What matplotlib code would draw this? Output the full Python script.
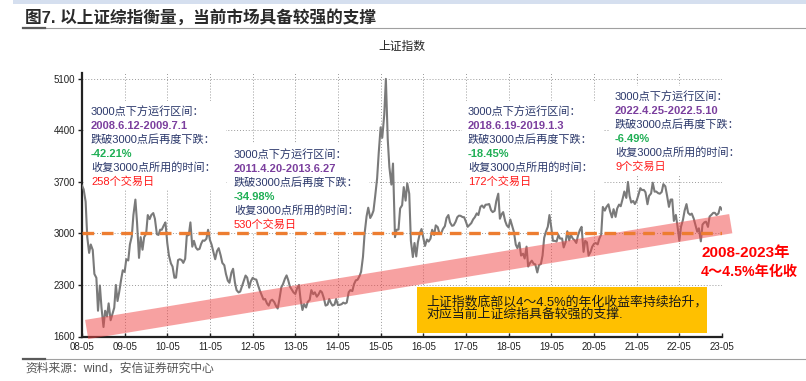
import matplotlib
matplotlib.use("Agg")
import matplotlib.pyplot as plt
import matplotlib.dates as mdates
from matplotlib.patches import Rectangle
from matplotlib.lines import Line2D
from matplotlib.transforms import IdentityTransform
import pandas as pd

plt.rcParams['font.family'] = ['Liberation Sans', 'Noto Sans CJK SC', 'DejaVu Sans']

W, H = 806, 381

# 上证指数, one point on the 1st and 15th of each month
sh_2008 = [3650, 3600, 3433, 2950, 2736, 2850, 2775, 2450, 2397, 1950, 2293,
           1990, 1729, 1950, 1871, 2050, 1821]
sh_2009 = [1900, 1991, 2300, 2082, 2200, 2373, 2500, 2477, 2650, 2633, 2850, 2959,
           3250, 3460, 3150, 2668, 2950, 2779, 2950, 2996, 3250, 3195, 3250, 3277]
sh_2010 = [3200, 2989, 2980, 3051, 3050, 3110, 3150, 2870, 2700, 2593, 2550, 2398,
           2400, 2638, 2650, 2639, 2600, 2656, 2970, 2979, 3150, 2820, 2900, 2808]
sh_2011 = [2780, 2790, 2860, 2905, 2900, 2928, 3050, 2911, 2850, 2743, 2650, 2762,
           2800, 2701, 2600, 2568, 2450, 2359, 2330, 2468, 2520, 2333, 2230, 2199]
sh_2012 = [2210, 2292, 2360, 2428, 2400, 2263, 2350, 2397, 2380, 2373, 2300, 2225,
           2170, 2103, 2110, 2047, 2020, 2086, 2100, 2069, 2020, 1980, 2100, 2269]
sh_2013 = [2310, 2385, 2430, 2366, 2280, 2237, 2200, 2178, 2250, 2301, 2100, 1960,
           2040, 1994, 2070, 2098, 2230, 2175, 2200, 2141, 2170, 2221, 2200, 2116]
sh_2014 = [2020, 2033, 2110, 2056, 2020, 2033, 2110, 2026, 2030, 2039, 2060, 2048,
           2060, 2202, 2230, 2217, 2310, 2364, 2370, 2420, 2480, 2683, 3000, 3235]
sh_2015 = [3350, 3210, 3250, 3310, 3500, 3748, 4100, 4442, 4300, 4612, 5100, 4277,
           3900, 3664, 3950, 2950, 3050, 3053, 3340, 3383, 3630, 3446, 3680, 3539]
sh_2016 = [2900, 2680, 2870, 2688, 2880, 3004, 3060, 2938, 2830, 2917, 2890, 2930,
           3050, 2979, 3110, 3085, 3000, 3005, 3060, 3100, 3210, 3250, 3150, 3104]
sh_2017 = [3110, 3159, 3220, 3242, 3240, 3223, 3220, 3155, 3090, 3117, 3140, 3192,
           3220, 3273, 3250, 3361, 3380, 3349, 3390, 3393, 3400, 3317, 3290, 3307]
sh_2018 = [3440, 3540, 3200, 3259, 3290, 3169, 3110, 3082, 3190, 3095, 3020, 2847,
           2800, 2876, 2700, 2725, 2660, 2821, 2550, 2603, 2630, 2588, 2580, 2470]
sh_2019 = [2570, 2585, 2700, 2941, 3020, 3091, 3250, 3078, 2900, 2899, 2890, 2979,
           2930, 2932, 2810, 2886, 3030, 2905, 2980, 2929, 2910, 2871, 2970, 3050]
sh_2020 = [3090, 2750, 2900, 2880, 2700, 2750, 2820, 2860, 2870, 2852, 2930, 2985,
           3360, 3310, 3360, 3396, 3300, 3218, 3330, 3225, 3340, 3392, 3370, 3473]
sh_2021 = [3570, 3483, 3700, 3509, 3420, 3442, 3400, 3447, 3520, 3615, 3590, 3591,
           3560, 3397, 3510, 3544, 3690, 3568, 3570, 3547, 3540, 3564, 3670, 3640]
sh_2022 = [3520, 3361, 3460, 3462, 3170, 3252, 3100, 2900, 3090, 3186, 3310, 3399,
           3280, 3253, 3270, 3202, 3120, 3024, 3070, 2893, 3120, 3151, 3160, 3089]
sh_2023 = [3230, 3256, 3280, 3280, 3250, 3273, 3360, 3323]

index_values = (sh_2008 + sh_2009 + sh_2010 + sh_2011 + sh_2012 + sh_2013 + sh_2014
                + sh_2015 + sh_2016 + sh_2017 + sh_2018 + sh_2019 + sh_2020
                + sh_2021 + sh_2022 + sh_2023)
index_dates = pd.date_range('2008-05-01', periods=len(index_values), freq='SMS')

support_level = 3000
# 底部抬升通道 (4~4.5% 年化)
band_dates = pd.to_datetime(['2008-06-10', '2023-07-15'])
band_values = [1695, 3133]

yticks = [1600, 2300, 3000, 3700, 4400, 5100]

ranges = ['2008.6.12-2009.7.1', '2011.4.20-2013.6.27',
          '2018.6.19-2019.1.3', '2022.4.25-2022.5.10']
drops = ['-42.21%', '-34.98%', '-18.45%', '-6.49%']
days = [258, 530, 172, 9]

NAVY = '#2B386B'
PURPLE = '#7B3F9E'
GREEN = '#1FAF55'
RED = '#FF1A1A'

fig = plt.figure(figsize=(W / 100, H / 100), dpi=100)
ax = fig.add_axes([82 / W, 1 - 336.5 / H, 640 / W, 263.5 / H])


def fpx(x, y):
    # pixel position (from top-left) -> figure fraction
    return x / W, 1 - y / H


ax.plot(index_dates, index_values, color='#7A7A7A', lw=1.5, zorder=3)
ax.plot(band_dates, band_values, color=(0.94, 0.27, 0.27), alpha=0.5, lw=14,
        solid_capstyle='butt', zorder=4, clip_on=False)
ax.axhline(support_level, color='#ED7D31', lw=2.4, dashes=(3.5, 2.3), zorder=5)

ax.set_xlim(pd.Timestamp('2008-05-01'), pd.Timestamp('2023-05-01'))
ax.set_ylim(1600, 5180)
ax.set_yticks(yticks)
ax.xaxis.set_major_locator(mdates.YearLocator(base=1, month=5, day=1))
ax.xaxis.set_major_formatter(mdates.DateFormatter('%y-%m'))

ax.spines[['top', 'right']].set_visible(False)
for s in ['left', 'bottom']:
    ax.spines[s].set_linewidth(1.6)
    ax.spines[s].set_color('#222222')
ax.tick_params(axis='y', direction='out', length=3, width=1, labelsize=7, pad=2,
               colors='#222222')
ax.tick_params(axis='x', direction='in', length=3, width=1, labelsize=7, pad=4,
               colors='#222222')
ax.grid(True, color='#9A9A9A', linestyle=(0, (1, 2)), lw=0.7)
ax.set_axisbelow(True)

# titles and frame lines
fig.add_artist(Rectangle((13, H - 4), W - 13, 4, transform=IdentityTransform(),
                         fc='#D5DFEF', ec='none'))
fig.text(*fpx(25, 17), '图7. 以上证综指衡量，当前市场具备较强的支撑', fontsize=12,
         fontweight='bold', color='#2A2A2A', va='center', ha='left')
fig.text(*fpx(402, 47), '上证指数', fontsize=8.5, color='#222222', va='center', ha='center')
for yy in [28, 359]:
    fig.add_artist(Line2D([23, W], [H - yy, H - yy], transform=IdentityTransform(),
                          color='#A0A0A0', lw=0.8))
    fig.add_artist(Line2D([23, 45], [H - yy, H - yy], transform=IdentityTransform(),
                          color='#5A5A5A', lw=1.6))
fig.text(*fpx(25, 369), '资料来源：wind，安信证券研究中心', fontsize=8.5, color='#555555',
         va='center', ha='left')

# annotation boxes
BOX_XY = [(91, 112), (234, 155), (468, 112), (615, 97)]
LINE_H = 13.9
box_texts = []
for i, (x0, y0) in enumerate(BOX_XY):
    lines = [('3000点下方运行区间：', NAVY, 'normal'),
             (ranges[i], PURPLE, 'bold'),
             ('跌破3000点后再度下跌：', NAVY, 'normal'),
             (drops[i], GREEN, 'bold'),
             ('收复3000点所用的时间：', NAVY, 'normal'),
             (f'{days[i]}个交易日', RED, 'normal')]
    texts = []
    for j, (s, c, wt) in enumerate(lines):
        texts.append(fig.text(*fpx(x0, y0 + j * LINE_H), s, color=c, fontsize=8,
                              fontweight=wt, va='center', ha='left', zorder=6))
    box_texts.append(texts)

# yellow note box
fig.add_artist(Rectangle((417, H - 333), 290, 46, transform=IdentityTransform(),
                         fc='#FFC000', ec='none', zorder=5))
fig.text(*fpx(426, 302), '上证指数底部以4～4.5%的年化收益率持续抬升，', fontsize=9.3,
         color='#1A1A1A', va='center', ha='left', zorder=6)
fig.text(*fpx(426, 315), '对应当前上证综指具备较强的支撑.', fontsize=9.3,
         color='#1A1A1A', va='center', ha='left', zorder=6)

# red note on the right (runs into the right edge as in the source)
fig.text(*fpx(701, 253), '2008-2023年', fontsize=11, fontweight='bold', color='#FF0000',
         va='center', ha='left', zorder=6)
fig.text(*fpx(701, 272), '4～4.5%年化收', fontsize=10.2, fontweight='bold',
         color='#FF0000', va='center', ha='left', zorder=6)

# white backgrounds sized to the annotation text, kept under the data marks
fig.canvas.draw()
r = fig.canvas.get_renderer()
for texts in box_texts:
    bbs = [t.get_window_extent(r) for t in texts]
    x_lo = min(b.x0 for b in bbs) - 6
    x_hi = max(b.x1 for b in bbs) + 10
    y_lo = min(b.y0 for b in bbs) - 3
    y_hi = max(b.y1 for b in bbs) + 6
    ax.add_artist(Rectangle((x_lo, y_lo), x_hi - x_lo, y_hi - y_lo,
                            transform=IdentityTransform(), fc='white', ec='none',
                            zorder=2, clip_on=False))

fig.savefig('out.png', dpi=100)
